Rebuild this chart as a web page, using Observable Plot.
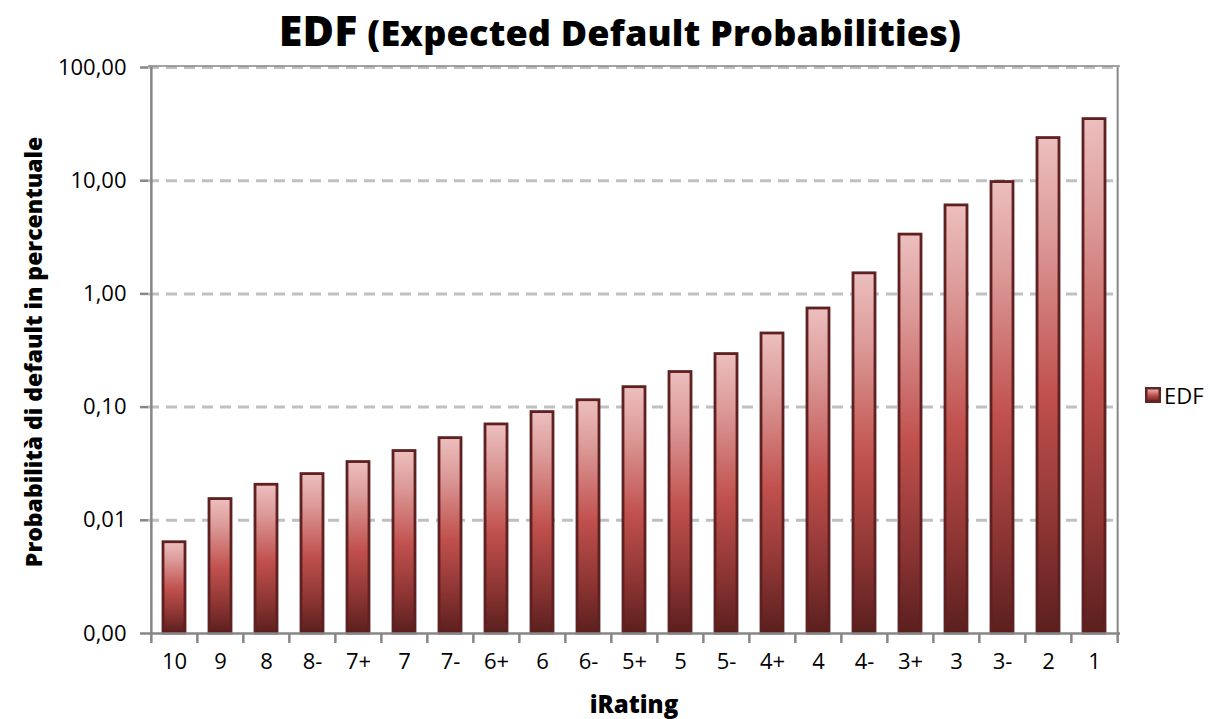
<!DOCTYPE html>
<html>
<head>
<meta charset="utf-8">
<script src="https://cdn.jsdelivr.net/npm/d3@7"></script>
<script src="https://cdn.jsdelivr.net/npm/@observablehq/plot@0.6"></script>
<style>
  html, body { margin: 0; padding: 0; background: #fff; }
  #wrap { position: relative; width: 1210px; height: 719px; font-family: "Open Sans", sans-serif; color: #000; }
  #title { height: 55px; text-align: center; font-weight: 800; font-size: 36px; line-height: 60px; letter-spacing: 0.2px; white-space: nowrap; padding-left: 30px; }
  #title .big { font-size: 43px; }
  #ylab { position: absolute; left: 33px; top: 352px; transform: translate(-50%, -50%) rotate(-90deg); font-weight: 800; font-size: 23px; white-space: nowrap; letter-spacing: 0px; }
  #xlab { position: absolute; left: 634px; top: 703px; transform: translate(-50%, -50%); font-weight: 800; font-size: 24px; white-space: nowrap; }
  #legend { position: absolute; left: 1145px; top: 380px; display: flex; align-items: center; font-size: 22px; }
  #legend svg { margin-right: 3px; }
  svg { display: block; }
</style>
</head>
<body>
<div id="wrap">
  <div id="title"><span class="big">EDF</span> (Expected Default Probabilities)</div>
  <div id="chart"></div>
  <div id="ylab">Probabilità di default in percentuale</div>
  <div id="xlab">iRating</div>
  <div id="legend"><svg width="16" height="16"><rect x="1.25" y="1.25" width="13.5" height="13.5" fill="url(#edfGrad)" stroke="#632523" stroke-width="2.5"></rect></svg><span id="legtext">EDF</span></div>
</div>
<script>
const categories = ["10","9","8","8-","7+","7","7-","6+","6","6-","5+","5","5-","4+","4","4-","3+","3","3-","2","1"];
const edfValues = [0.0064,0.0154,0.0206,0.0256,0.0327,0.0409,0.0532,0.0703,0.0903,0.115,0.150,0.204,0.294,0.447,0.743,1.52,3.34,6.05,9.73,23.8,35.0];
const yTicks = [0.001,0.01,0.1,1,10,100];
const gridTicks = [0.01,0.1,1,10,100];
const seriesName = "EDF";

const table = categories.map((c, i) => ({cat: c, edf: edfValues[i]}));

const W = 1210, H = 664;
const mL = 148, mR = 90, mT = 12, mB = 86;
const step = (W - mL - mR) / categories.length;
const axisGray = "#868686";
const fmt = d => d.toFixed(2).replace(".", ",");
const first = categories[0], last = categories[categories.length - 1];

const chart = Plot.plot({
  width: W, height: H,
  marginLeft: mL, marginRight: mR, marginTop: mT, marginBottom: mB,
  style: {fontFamily: "'Open Sans', sans-serif", color: "#000", background: "#fff", overflow: "visible"},
  x: {domain: categories, paddingInner: 0.53, paddingOuter: 0.265, axis: null},
  y: {type: "log", domain: [0.001, 100], axis: null},
  marks: [
    Plot.gridY(gridTicks, {stroke: "#c0c0c0", strokeOpacity: 1, strokeWidth: 3, strokeDasharray: "11,7"}),
    Plot.ruleY([100], {stroke: axisGray, strokeWidth: 1.5, dy: -1.5}),
    Plot.ruleX([last], {x: d => d, dx: step / 2, stroke: axisGray, strokeWidth: 2}),
    Plot.barY(table, {x: "cat", y1: 0.001, y2: "edf", fill: "#c0504d", stroke: "#5e2020", strokeWidth: 2.8}),
    Plot.ruleY([0.001], {stroke: axisGray, strokeWidth: 2.5}),
    Plot.ruleX([first], {x: d => d, dx: -step / 2, stroke: axisGray, strokeWidth: 2.5}),
    Plot.axisX(categories, {tickSize: 10, tickFormat: () => "", dx: -step / 2, stroke: axisGray, strokeWidth: 2.5, label: null}),
    Plot.axisX([last], {tickSize: 10, tickFormat: () => "", dx: step / 2, stroke: axisGray, strokeWidth: 2.5, label: null}),
    Plot.axisX(categories, {tickSize: 0, tickPadding: 20, fontSize: 22, label: null, fill: "#000"}),
    Plot.axisY(yTicks, {tickSize: 8, tickPadding: 14, tickFormat: fmt, fontSize: 22, stroke: axisGray, strokeWidth: 2.5, label: null, fill: "#000"})
  ]
});

const svg = d3.select(chart);
const defs = svg.insert("defs", ":first-child");
const grad = defs.append("linearGradient").attr("id", "edfGrad").attr("x1", 0).attr("y1", 0).attr("x2", 0).attr("y2", 1);
[["0%", "#ecbfbe"], ["20%", "#dc9a98"], ["52%", "#c0504d"], ["80%", "#8a3432"], ["100%", "#5a1f1e"]].forEach(([o, c]) => grad.append("stop").attr("offset", o).attr("stop-color", c));
svg.selectAll("g[aria-label='bar'] rect").attr("fill", "url(#edfGrad)");
document.getElementById("chart").appendChild(chart);
document.getElementById("legtext").textContent = seriesName;
</script>
</body>
</html>
